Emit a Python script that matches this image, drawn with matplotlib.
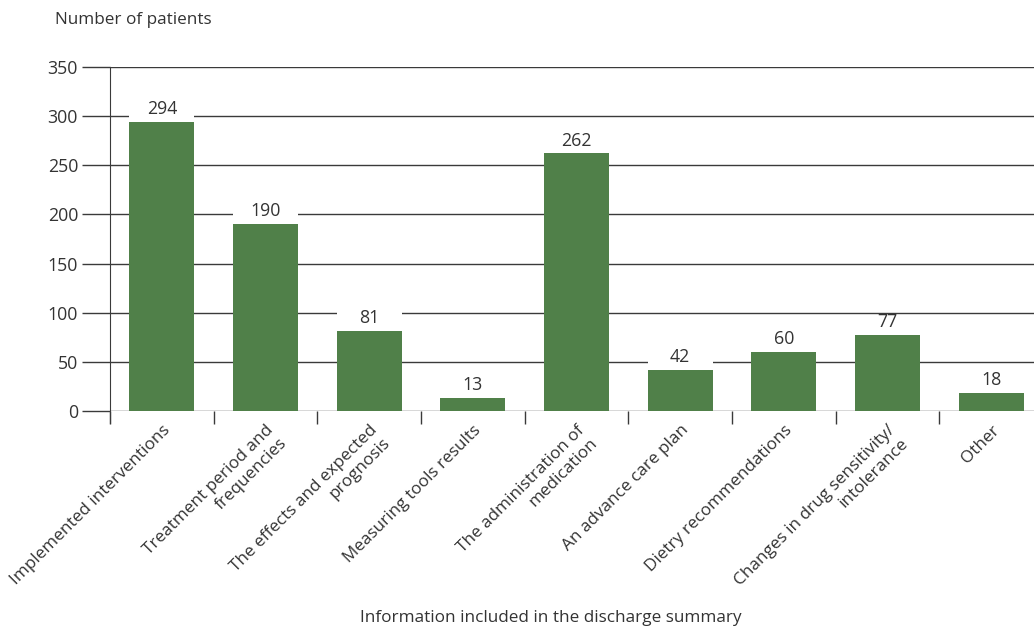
import numpy as np
import matplotlib.pyplot as plt
from matplotlib.patches import Rectangle

plt.rcParams['font.family'] = ['Open Sans', 'DejaVu Sans']

# categories and patient counts
categories = [
    "Implemented interventions",
    "Treatment period and\nfrequencies",
    "The effects and expected\nprognosis",
    "Measuring tools results",
    "The administration of\nmedication",
    "An advance care plan",
    "Dietry recommendations",
    "Changes in drug sensitivity/\nintolerance",
    "Other",
]
patients = [294, 190, 81, 13, 262, 42, 60, 77, 18]
yticks = [0, 50, 100, 150, 200, 250, 300, 350]

bar_color = "#508049"
text_color = "#333333"
line_color = "#3a3a3a"
fs = 12.3

fig = plt.figure(figsize=(10.34, 6.28), dpi=100)
ax = fig.add_axes([110 / 1034, 217 / 628, 933 / 1034, 344 / 628])

x = np.arange(len(categories))
width = 0.63

# horizontal gridlines
for t in yticks:
    ax.axhline(t, color=line_color, lw=1.0, zorder=1)

bars = ax.bar(x, patients, width=width, color=bar_color, zorder=3)

# value labels sitting on a white strip that breaks the gridlines
for xi, v in zip(x, patients):
    ax.add_patch(Rectangle((xi - width / 2, v), width, 21,
                           facecolor="white", edgecolor="none", zorder=2))
    ax.text(xi, v + 4, str(v), ha="center", va="bottom",
            fontsize=fs + 0.5, color=text_color, zorder=4)

ax.set_xlim(-0.5, len(categories) - 0.5)
ax.set_ylim(0, 350)

for s in ["top", "right", "bottom"]:
    ax.spines[s].set_visible(False)
ax.spines["left"].set_color(line_color)
ax.spines["left"].set_bounds(-12, 350)
ax.spines["left"].set_zorder(5)

ax.set_yticks(yticks)
ax.tick_params(axis="y", length=20, width=1.0, color=line_color,
               labelsize=fs + 0.5, labelcolor=text_color, pad=3)

# category boundaries as ticks, labels at bar centres
ax.set_xticks(np.arange(len(categories) + 1) - 0.5, minor=True)
ax.tick_params(axis="x", which="minor", length=9, width=1.0, color=line_color)
ax.set_xticks(x)
ax.set_xticklabels(categories, rotation=45, ha="right", va="top",
                   rotation_mode="anchor", multialignment="right",
                   fontsize=fs, color=text_color)
ax.tick_params(axis="x", which="major", length=0, pad=8)

fig.text(55 / 1034, 1 - 20 / 628, "Number of patients", ha="left", va="center",
         fontsize=fs, color=text_color)
fig.text(551 / 1034, 1 - 618 / 628, "Information included in the discharge summary",
         ha="center", va="center", fontsize=fs, color=text_color)

fig.savefig("out.png", dpi=100, facecolor="white")
